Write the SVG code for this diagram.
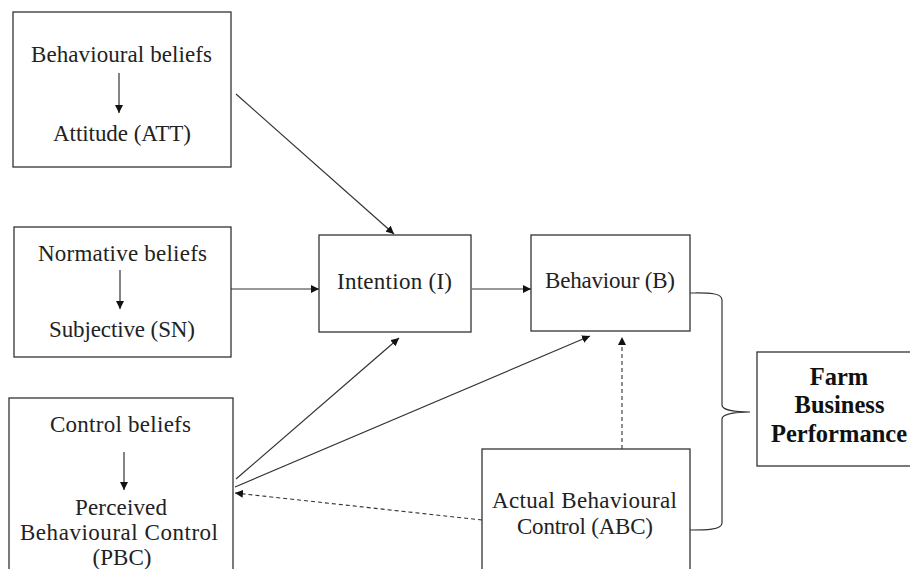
<svg xmlns="http://www.w3.org/2000/svg" width="910" height="569" viewBox="0 0 910 569">
<style>
.box{fill:#fff;stroke:#333;stroke-width:1.3}
.t{font-family:"Liberation Serif","DejaVu Serif",serif;font-size:23px;fill:#222;text-anchor:middle}
.b{font-family:"Liberation Serif","DejaVu Serif",serif;font-size:24.5px;font-weight:bold;fill:#111;text-anchor:middle}
.ln{stroke:#333;stroke-width:1.2;fill:none}
.dash{stroke:#333;stroke-width:1.1;fill:none;stroke-dasharray:4 3}
</style>
<defs>
<marker id="ah" viewBox="0 0 10 10" refX="10" refY="5" markerWidth="8" markerHeight="8" markerUnits="userSpaceOnUse" orient="auto"><path d="M0,0 L10,5 L0,10 z" fill="#111"/></marker>
</defs>
<g id="att">
<rect class="box" x="13" y="12" width="218" height="155"/>
<text class="t" x="121.5" y="62" textLength="181">Behavioural beliefs</text>
<line class="ln" x1="119" y1="73" x2="119" y2="113" marker-end="url(#ah)"/>
<text class="t" x="122" y="141" textLength="138">Attitude (ATT)</text>
</g>
<g id="sn">
<rect class="box" x="14" y="227" width="217" height="130"/>
<text class="t" x="122.5" y="261" textLength="169">Normative beliefs</text>
<line class="ln" x1="120" y1="270" x2="120" y2="309" marker-end="url(#ah)"/>
<text class="t" x="122" y="337" textLength="146">Subjective (SN)</text>
</g>
<g id="pbc">
<rect class="box" x="9" y="398" width="224" height="180"/>
<text class="t" x="120.5" y="432" textLength="141">Control beliefs</text>
<line class="ln" x1="124" y1="452" x2="124" y2="490" marker-end="url(#ah)"/>
<text class="t" x="121" y="515" textLength="92">Perceived</text>
<text class="t" x="119" y="540" textLength="198">Behavioural Control</text>
<text class="t" x="122" y="565">(PBC)</text>
</g>
<g id="intention">
<rect class="box" x="319" y="235" width="152" height="97"/>
<text class="t" x="394.5" y="289" textLength="115">Intention (I)</text>
</g>
<g id="behaviour">
<rect class="box" x="531" y="235" width="159" height="96"/>
<text class="t" x="610" y="288" textLength="130">Behaviour (B)</text>
</g>
<g id="abc">
<rect class="box" x="482" y="449" width="208" height="130"/>
<text class="t" x="584.5" y="508" textLength="185">Actual Behavioural</text>
<text class="t" x="585" y="534" textLength="136">Control (ABC)</text>
</g>
<g id="farm">
<rect class="box" x="757" y="352" width="160" height="114"/>
<text class="b" x="839" y="385">Farm</text>
<text class="b" x="839.5" y="413">Business</text>
<text class="b" x="839" y="442">Performance</text>
</g>
<g id="connectors">
<line class="ln" x1="236" y1="94" x2="394" y2="234" marker-end="url(#ah)"/>
<line class="ln" x1="231" y1="289" x2="319" y2="289" marker-end="url(#ah)"/>
<line class="ln" x1="472" y1="289" x2="531" y2="289" marker-end="url(#ah)"/>
<line class="ln" x1="236" y1="479" x2="399" y2="338" marker-end="url(#ah)"/>
<line class="ln" x1="235" y1="487" x2="590" y2="336" marker-end="url(#ah)"/>
<line class="dash" x1="622" y1="449" x2="622" y2="337" marker-end="url(#ah)"/>
<line class="dash" x1="482" y1="520" x2="235" y2="493" marker-end="url(#ah)"/>
<path class="ln" d="M690,293 C705,293 722,292 722,300 L722,405 C722,410 735,412 750,412 C735,412 722,414 722,419 L722,523 C722,530 705,530 690,530"/>
</g>
</svg>
